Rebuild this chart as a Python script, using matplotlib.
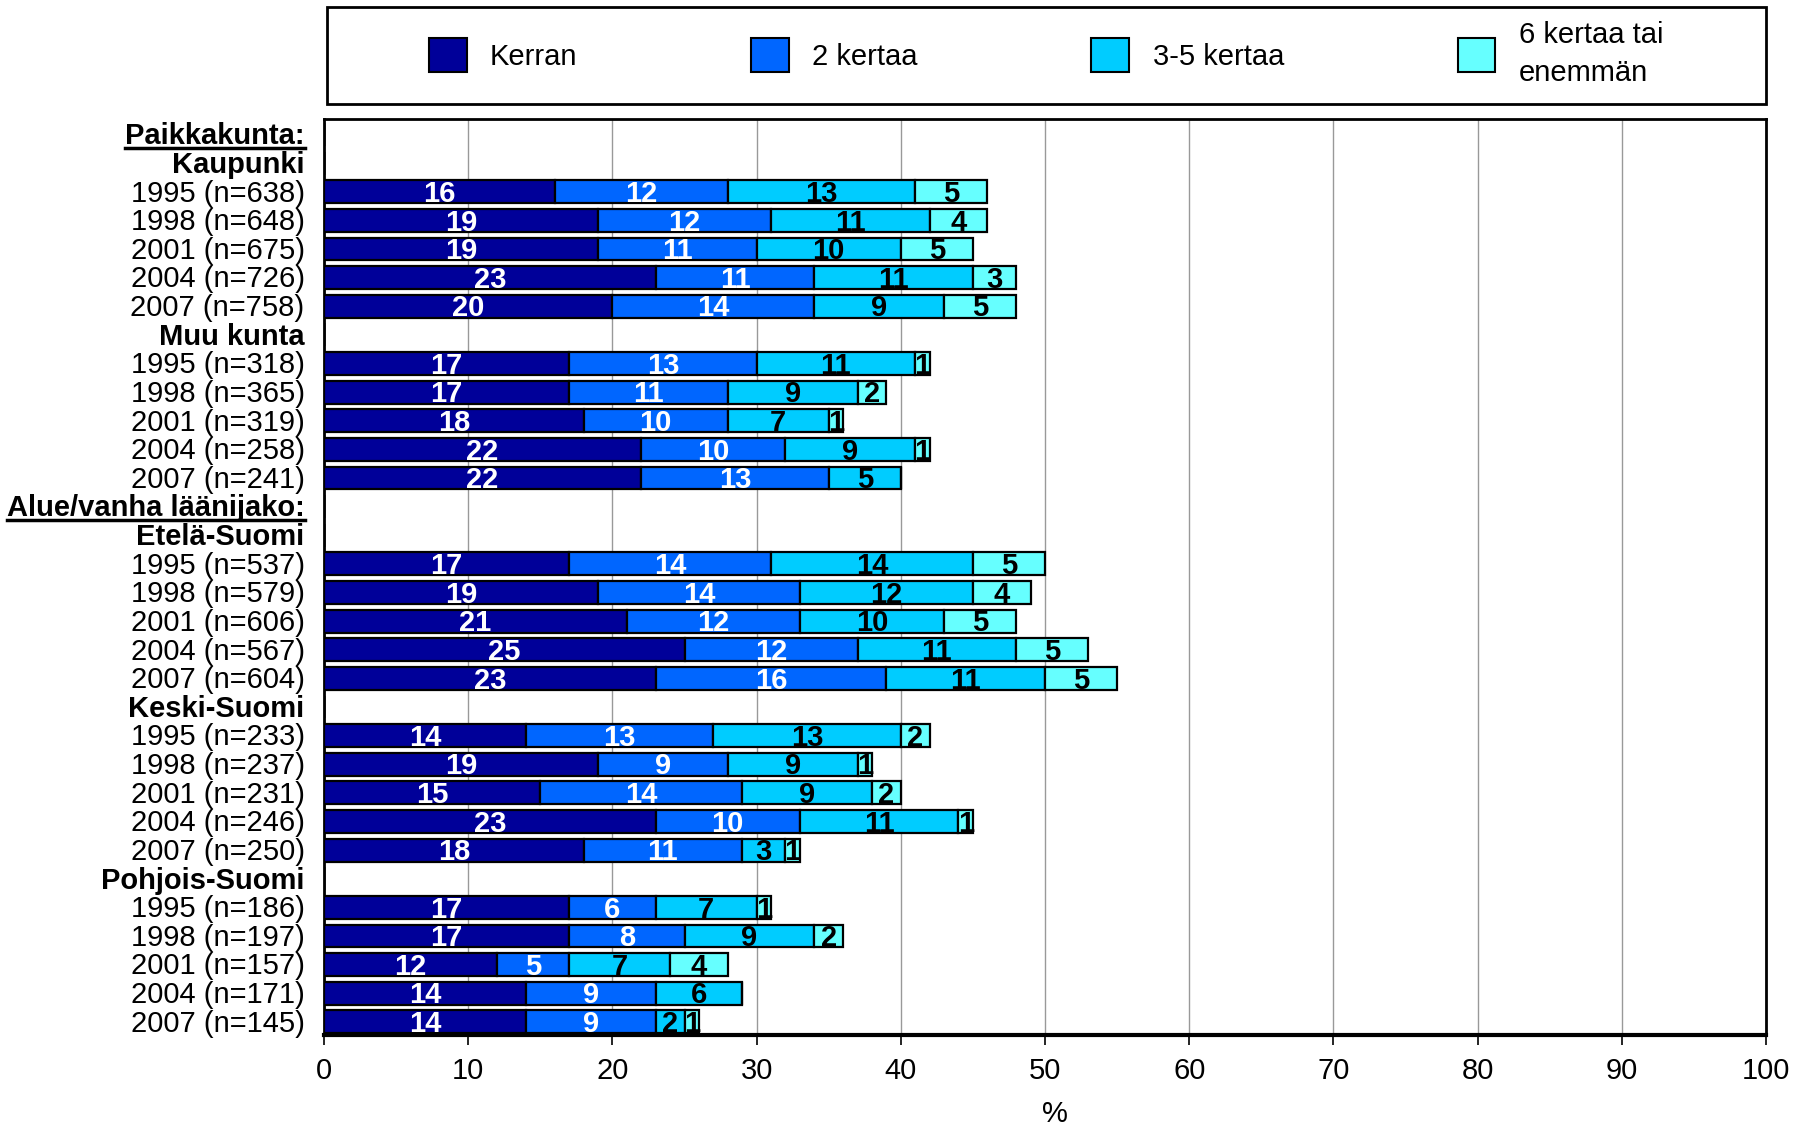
import matplotlib
matplotlib.use("Agg")
import matplotlib.pyplot as plt
import numpy as np
from matplotlib.patches import Rectangle, Patch
from matplotlib.lines import Line2D

plt.rcParams['font.family'] = ['Liberation Sans', 'DejaVu Sans']

series_names = ["Kerran", "2 kertaa", "3-5 kertaa", "6 kertaa tai\nenemmän"]
colors = ["#000099", "#0066FF", "#00CCFF", "#66FFFF"]
text_colors = ["white", "white", "black", "black"]

row_labels = [
    "Paikkakunta:", "Kaupunki",
    "1995 (n=638)", "1998 (n=648)", "2001 (n=675)", "2004 (n=726)", "2007 (n=758)",
    "Muu kunta",
    "1995 (n=318)", "1998 (n=365)", "2001 (n=319)", "2004 (n=258)", "2007 (n=241)",
    "Alue/vanha läänijako:", "Etelä-Suomi",
    "1995 (n=537)", "1998 (n=579)", "2001 (n=606)", "2004 (n=567)", "2007 (n=604)",
    "Keski-Suomi",
    "1995 (n=233)", "1998 (n=237)", "2001 (n=231)", "2004 (n=246)", "2007 (n=250)",
    "Pohjois-Suomi",
    "1995 (n=186)", "1998 (n=197)", "2001 (n=157)", "2004 (n=171)", "2007 (n=145)",
]
header_rows = ["Paikkakunta:", "Alue/vanha läänijako:"]
group_rows = ["Kaupunki", "Muu kunta", "Etelä-Suomi", "Keski-Suomi", "Pohjois-Suomi"]

# values per row (header rows = 0)
kerran = [0, 0, 16, 19, 19, 23, 20, 0, 17, 17, 18, 22, 22, 0, 0, 17, 19, 21, 25, 23, 0, 14, 19, 15, 23, 18, 0, 17, 17, 12, 14, 14]
kaksi  = [0, 0, 12, 12, 11, 11, 14, 0, 13, 11, 10, 10, 13, 0, 0, 14, 14, 12, 12, 16, 0, 13, 9, 14, 10, 11, 0, 6, 8, 5, 9, 9]
kolme  = [0, 0, 13, 11, 10, 11, 9, 0, 11, 9, 7, 9, 5, 0, 0, 14, 12, 10, 11, 11, 0, 13, 9, 9, 11, 3, 0, 7, 9, 7, 6, 2]
kuusi  = [0, 0, 5, 4, 5, 3, 5, 0, 1, 2, 1, 1, 0, 0, 0, 5, 4, 5, 5, 5, 0, 2, 1, 2, 1, 1, 0, 1, 2, 4, 0, 1]
xticks = list(range(0, 101, 10))

fig = plt.figure(figsize=(18.04, 11.28), dpi=100)
ax = fig.add_axes([324/1804, 93/1128, (1766-324)/1804, (1035-119)/1128])

ypos = np.arange(len(row_labels))
left = np.zeros(len(row_labels))
FS = 21
for vals, col, tcol, name in zip([kerran, kaksi, kolme, kuusi], colors, text_colors, series_names):
    vals = np.array(vals, dtype=float)
    ax.barh(ypos + 0.04, vals, left=left, height=0.8, color=col, edgecolor="black",
            linewidth=1.6, zorder=3)
    for y, v, l in zip(ypos, vals, left):
        if v > 0:
            ax.text(l + v / 2, y + 0.12, f"{int(v)}", ha="center", va="center",
                    color=tcol, fontsize=FS, fontweight="bold", zorder=4)
    left = left + vals

ax.set_ylim(len(row_labels) - 0.5, -0.5)
ax.set_xlim(0, 100)
ax.set_xticks(xticks)
ax.set_xticklabels([str(t) for t in xticks], fontsize=FS)
ax.set_yticks(ypos)
ax.set_yticklabels(row_labels, fontsize=FS)
ax.tick_params(axis="y", length=0, pad=14)
ax.tick_params(axis="x", length=7, width=1.2, pad=9, direction="out")
for lab in ax.get_yticklabels():
    if lab.get_text() in header_rows or lab.get_text() in group_rows:
        lab.set_fontweight("bold")

ax.grid(axis="x", color="#999999", linewidth=1.0, zorder=0)
ax.set_axisbelow(True)
for s in ["top", "right", "left"]:
    ax.spines[s].set_linewidth(2)
    ax.spines[s].set_color("black")
ax.spines["bottom"].set_linewidth(3)

fig.text(917/1568, 1 - 1114/1128, "%", ha="center", va="center", fontsize=FS)

# legend box
fig.patches.append(Rectangle((327/1804, 1 - 104/1128), (1766-327)/1804, (104-7)/1128,
                             transform=fig.transFigure, fill=False, edgecolor="black",
                             linewidth=2))
handles = [Patch(facecolor=c, edgecolor="black", linewidth=1.5) for c in colors]
leg = fig.legend(handles, series_names, loc="center", bbox_to_anchor=(1046/1804, 1 - 54/1128),
                 ncol=4, frameon=False, fontsize=FS, handlelength=1.3, handleheight=1.4,
                 handletextpad=0.8, columnspacing=5.95, labelspacing=0.2)
for t in leg.get_texts():
    t.set_linespacing(1.45)

# underline header labels
fig.canvas.draw()
renderer = fig.canvas.get_renderer()
for lab in ax.get_yticklabels():
    if lab.get_text() in header_rows:
        bb = lab.get_window_extent(renderer)
        yline = bb.y0 + 2
        fig.add_artist(Line2D([bb.x0 / fig.bbox.width, bb.x1 / fig.bbox.width],
                              [yline / fig.bbox.height, yline / fig.bbox.height],
                              transform=fig.transFigure, color="black", linewidth=2.5))

fig.savefig("out.png", dpi=100)
